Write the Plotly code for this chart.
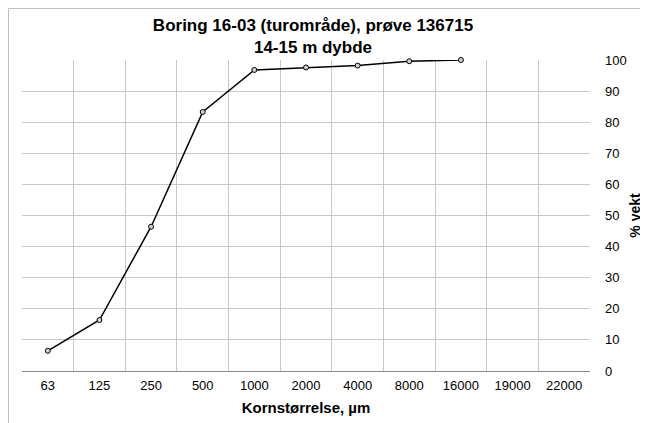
import plotly.graph_objects as go

sizes = ["63", "125", "250", "500", "1000", "2000", "4000", "8000", "16000", "19000", "22000"]
passing = [6.5, 16.4, 46.4, 83.3, 96.8, 97.6, 98.2, 99.6, 100.0, None, None]

fig = go.Figure()
fig.add_trace(go.Scatter(
    x=sizes, y=passing, mode="lines+markers",
    line={'color': "black", 'width': 1.5},
    marker={'size': 5, 'color': "#d0d0d0", 'line': {'color': "black", 'width': 1}},
    showlegend=False,
    cliponaxis=False,
))

# plotområdet: 568 x 311 px
fig.update_layout(
    width=648,
    height=423,
    margin={'l': 14, 'r': 66, 't': 52, 'b': 60},
    paper_bgcolor="white",
    plot_bgcolor="white",
    font={'family': "Liberation Sans, Arial, sans-serif", 'size': 13, 'color': "black"},
    title={
        'text': "<b>Boring 16-03 (turområde), prøve 136715<br>14-15 m dybde</b>",
        'x': 305 / 648, 'xanchor': "center",
        'y': 1 - 23 / 423, 'yanchor': "middle",
        'font': {'size': 17},
    },
    xaxis={
        'type': "category",
        'categoryorder': "array",
        'categoryarray': sizes,
        'range': [-0.5, 10.5],
        'tickson': "boundaries",
        'showgrid': True,
        'gridcolor': "#c8c8c8",
        'gridwidth': 1,
        'showline': True,
        'linecolor': "#8c8c8c",
        'linewidth': 1,
        'ticks': "",
        'ticklabelstandoff': 2,
        'tickfont': {'size': 13},
        'title': {'text': "<b>Kornstørrelse, µm</b>", 'font': {'size': 15}, 'standoff': 10},
        'automargin': False,
        'zeroline': False,
    },
    yaxis={
        'side': "right",
        'range': [0, 100],
        'dtick': 10,
        'showgrid': True,
        'gridcolor': "#c8c8c8",
        'gridwidth': 1,
        'zeroline': False,
        'showline': False,
        'ticks': "",
        'ticklabelstandoff': 14,
        'tickfont': {'size': 13},
        'title': {'text': "<b>% vekt</b>", 'font': {'size': 14}, 'standoff': 4},
        'automargin': False,
    },
    shapes=[{
        'type': "rect", 'xref': "paper", 'yref': "paper",
        'x0': (0.5 - 14) / 568, 'x1': 1.3, 'y0': -0.5, 'y1': 1 + (52 - 0.5) / 311,
        'line': {'color': "#c0c0c0", 'width': 1},
        'layer': "below",
    }],
)

fig.write_html("out.html")
